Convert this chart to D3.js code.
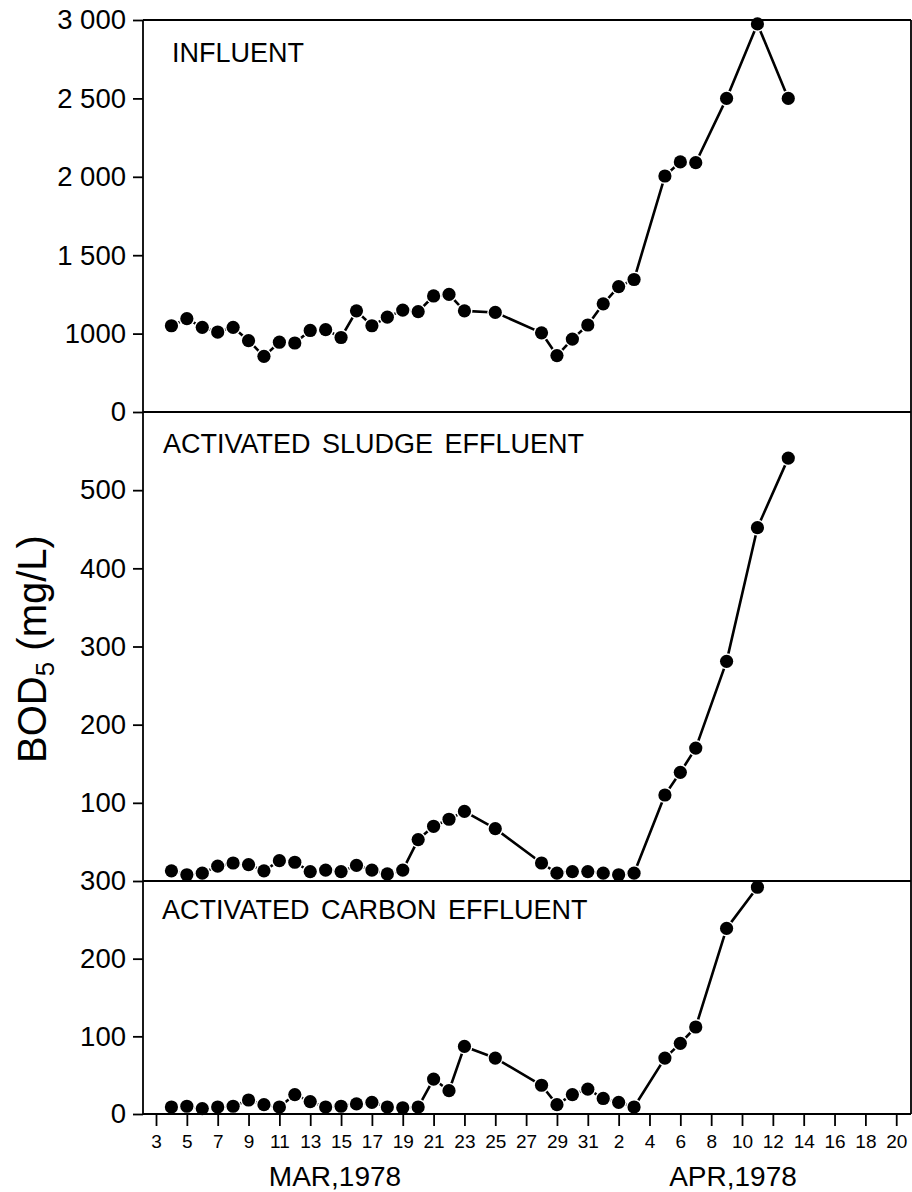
<!DOCTYPE html>
<html>
<head>
<meta charset="utf-8">
<script src="https://cdn.jsdelivr.net/npm/d3@7/dist/d3.min.js"></script>
<style>
  html, body { margin: 0; padding: 0; background: #fff; }
  svg { display: block; }
  text { font-family: "Liberation Sans", Arial, Helvetica, sans-serif; fill: #000; }
</style>
</head>
<body>
<svg id="chart" width="912" height="1192"></svg>
<script>
// Sampling dates (1978)
const sampleDates = [
  "1978-03-04","1978-03-05","1978-03-06","1978-03-07","1978-03-08","1978-03-09",
  "1978-03-10","1978-03-11","1978-03-12","1978-03-13","1978-03-14","1978-03-15",
  "1978-03-16","1978-03-17","1978-03-18","1978-03-19","1978-03-20","1978-03-21",
  "1978-03-22","1978-03-23","1978-03-25","1978-03-28","1978-03-29","1978-03-30",
  "1978-03-31","1978-04-01","1978-04-02","1978-04-03","1978-04-05","1978-04-06",
  "1978-04-07","1978-04-09","1978-04-11","1978-04-13"
];

// BOD5, mg/L
const influent = [
  1050, 1095, 1040, 1010, 1040, 955, 855, 945, 940, 1020, 1025, 975,
  1145, 1050, 1105, 1150, 1140, 1240, 1250, 1145, 1135, 1005, 860, 965,
  1055, 1190, 1300, 1345, 2005, 2095, 2090, 2500, 2975, 2500
];
const sludgeEffluent = [
  13, 8, 10, 19, 23, 21, 13, 26, 24, 12, 14, 12,
  20, 14, 9, 14, 53, 70, 79, 89, 67, 23, 10, 12,
  12, 10, 8, 10, 110, 139, 170, 281, 452, 541
];
const carbonEffluent = [
  9, 10, 7, 9, 10, 18, 12, 9, 25, 16, 9, 10,
  13, 15, 9, 8, 9, 45, 30, 87, 72, 37, 12, 25,
  32, 20, 15, 9, 72, 91, 112, 239, 292
];

// Axis ticks and their labels
const influentTicks = [500, 1000, 1500, 2000, 2500, 3000];
const influentTickLabels = ["0", "1000", "1 500", "2 000", "2 500", "3 000"];
const sludgeTicks = [100, 200, 300, 400, 500];
const sludgeTickLabels = ["100", "200", "300", "400", "500"];
const carbonTicks = [0, 100, 200, 300];
const carbonTickLabels = ["0", "100", "200", "300"];

const panelTitles = ["INFLUENT", "ACTIVATED SLUDGE EFFLUENT", "ACTIVATED CARBON EFFLUENT"];
const monthLabels = ["MAR,1978", "APR,1978"];

const parseDate = d3.utcParse("%Y-%m-%d");
const dates = sampleDates.map(parseDate);

const svg = d3.select("#chart");
svg.append("rect").attr("width", 912).attr("height", 1192).attr("fill", "#fff");

const left = 143, right = 911;
const x = d3.scaleUtc()
  .domain([Date.UTC(1978, 2, 2, 3, 45), Date.UTC(1978, 3, 20, 23, 0)])
  .range([left, right]);

const panels = [
  { title: panelTitles[0], values: influent, top: 20, bottom: 412,
    domain: [500, 3000], ticks: influentTicks, labels: influentTickLabels, titleX: 172, titleY: 62 },
  { title: panelTitles[1], values: sludgeEffluent, top: 412, bottom: 881,
    domain: [0, 600], ticks: sludgeTicks, labels: sludgeTickLabels, titleX: 163, titleY: 453 },
  { title: panelTitles[2], values: carbonEffluent, top: 881, bottom: 1114,
    domain: [0, 300], ticks: carbonTicks, labels: carbonTickLabels, titleX: 162, titleY: 919 }
];

panels.forEach(p => {
  const y = d3.scaleLinear().domain(p.domain).range([p.bottom, p.top]);
  const g = svg.append("g");

  // left axis with ticks
  const axis = d3.axisLeft(y)
    .tickValues(p.ticks)
    .tickFormat((d, i) => p.labels[i])
    .tickSize(10)
    .tickPadding(7);
  g.append("g")
    .attr("transform", `translate(${left},0)`)
    .call(axis)
    .call(a => a.select(".domain").remove())
    .call(a => a.selectAll(".tick line").attr("stroke", "#000").attr("stroke-width", 1.8))
    .call(a => a.selectAll(".tick text")
      .attr("font-size", 27.5)
      .attr("font-family", "'Liberation Sans', Arial, Helvetica, sans-serif")
      .attr("fill", "#000"));

  // panel title
  g.append("text")
    .attr("x", p.titleX)
    .attr("y", p.titleY)
    .attr("font-size", 27)
    .attr("word-spacing", 4)
    .text(p.title);

  // series
  const pts = p.values.map((v, i) => ({ date: dates[i], v }));
  const line = d3.line().x(d => x(d.date)).y(d => y(d.v));
  g.append("path")
    .datum(pts)
    .attr("d", line)
    .attr("fill", "none")
    .attr("stroke", "#000")
    .attr("stroke-width", 2.6)
    .attr("stroke-linejoin", "round");
  g.selectAll("circle.halo")
    .data(pts).join("circle")
    .attr("class", "halo")
    .attr("cx", d => x(d.date)).attr("cy", d => y(d.v))
    .attr("r", 8).attr("fill", "#fff");
  g.selectAll("circle.dot")
    .data(pts).join("circle")
    .attr("class", "dot")
    .attr("cx", d => x(d.date)).attr("cy", d => y(d.v))
    .attr("r", 6.6).attr("fill", "#000");
});

// frame: panel borders
const frame = svg.append("g").attr("stroke", "#000").attr("stroke-width", 1.8).attr("fill", "none");
[20, 412, 881, 1114].forEach(yy => {
  frame.append("line").attr("x1", left).attr("x2", right).attr("y1", yy).attr("y2", yy);
});
frame.append("line").attr("x1", left).attr("x2", left).attr("y1", 20).attr("y2", 1114);
frame.append("line").attr("x1", right).attr("x2", right).attr("y1", 20).attr("y2", 1114);

// bottom date axis
const xTicks = d3.utcDay.range(new Date(Date.UTC(1978, 2, 3)), new Date(Date.UTC(1978, 3, 21)), 2);
svg.append("g")
  .attr("transform", "translate(0,1114)")
  .call(d3.axisBottom(x).tickValues(xTicks).tickFormat(d3.utcFormat("%-d")).tickSize(12).tickPadding(9))
  .call(a => a.select(".domain").remove())
  .call(a => a.selectAll(".tick line").attr("stroke", "#000").attr("stroke-width", 1.8))
  .call(a => a.selectAll(".tick text")
    .attr("font-size", 19)
    .attr("font-family", "'Liberation Sans', Arial, Helvetica, sans-serif")
    .attr("fill", "#000"));

// month labels
svg.append("text").attr("x", 335).attr("y", 1186).attr("text-anchor", "middle")
  .attr("font-size", 28).text(monthLabels[0]);
svg.append("text").attr("x", 733).attr("y", 1186).attr("text-anchor", "middle")
  .attr("font-size", 28).text(monthLabels[1]);

// y axis title
const yTitle = svg.append("text")
  .attr("transform", "translate(46,649) rotate(-90)")
  .attr("text-anchor", "middle")
  .attr("font-size", 40);
yTitle.append("tspan").text("BOD");
yTitle.append("tspan").attr("font-size", 26).attr("dy", 8).text("5");
yTitle.append("tspan").attr("dy", -8).text(" (mg/L)");
</script>
</body>
</html>
